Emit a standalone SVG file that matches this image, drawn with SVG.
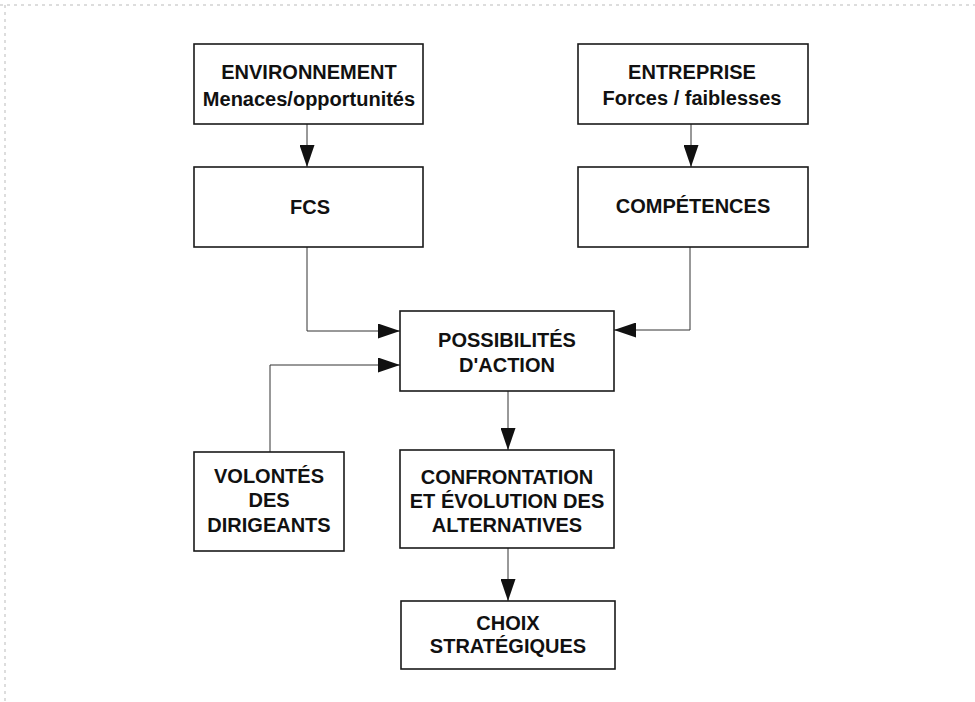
<svg xmlns="http://www.w3.org/2000/svg" width="975" height="702" viewBox="0 0 975 702">
<style>
.box{fill:#fff;stroke:#1a1a1a;stroke-width:1.6}
.t{font-family:"Liberation Sans",Arial,sans-serif;font-weight:bold;font-size:20px;fill:#111;text-anchor:middle}
.c{fill:none;stroke:#333;stroke-width:1}
.frame{stroke:#bbb;stroke-width:1;stroke-dasharray:3 4;fill:none}
</style>
<defs>
<marker id="ah" markerUnits="userSpaceOnUse" markerWidth="22" markerHeight="15" refX="22" refY="7.5" orient="auto">
<path d="M0,0 L22,7.5 L0,15 z" fill="#111"/>
</marker>
</defs>
<rect width="975" height="702" fill="#fff"/>
<g id="frame">
<line class="frame" x1="0" y1="5" x2="975" y2="5"/>
<line class="frame" x1="5" y1="5" x2="5" y2="702"/>
</g>
<g id="connectors">
<line class="c" x1="307" y1="124" x2="307" y2="167" marker-end="url(#ah)"/>
<line class="c" x1="691" y1="124" x2="691" y2="167" marker-end="url(#ah)"/>
<polyline class="c" points="307,247 307,331 400,331" marker-end="url(#ah)"/>
<polyline class="c" points="270,452 270,365 400,365" marker-end="url(#ah)"/>
<polyline class="c" points="690,247 690,330 614,330" marker-end="url(#ah)"/>
<line class="c" x1="508" y1="391" x2="508" y2="450" marker-end="url(#ah)"/>
<line class="c" x1="508" y1="548" x2="508" y2="601" marker-end="url(#ah)"/>
</g>
<g id="environnement">
<rect class="box" x="194" y="44" width="229" height="80"/>
<text class="t" x="309" y="79">ENVIRONNEMENT</text>
<text class="t" x="309" y="106">Menaces/opportunités</text>
</g>
<g id="entreprise">
<rect class="box" x="578" y="44" width="230" height="80"/>
<text class="t" x="692" y="79">ENTREPRISE</text>
<text class="t" x="692" y="105">Forces / faiblesses</text>
</g>
<g id="fcs">
<rect class="box" x="194" y="167" width="229" height="80"/>
<text class="t" x="310" y="214">FCS</text>
</g>
<g id="competences">
<rect class="box" x="578" y="167" width="230" height="80"/>
<text class="t" x="693" y="213">COMPÉTENCES</text>
</g>
<g id="possibilites">
<rect class="box" x="400" y="311" width="214" height="80"/>
<text class="t" x="507" y="347">POSSIBILITÉS</text>
<text class="t" x="507" y="372">D'ACTION</text>
</g>
<g id="volontes">
<rect class="box" x="194" y="452" width="150" height="99"/>
<text class="t" x="269" y="483">VOLONTÉS</text>
<text class="t" x="269" y="507">DES</text>
<text class="t" x="269" y="532">DIRIGEANTS</text>
</g>
<g id="confrontation">
<rect class="box" x="400" y="450" width="214" height="98"/>
<text class="t" x="507" y="484">CONFRONTATION</text>
<text class="t" x="507" y="508">ET ÉVOLUTION DES</text>
<text class="t" x="507" y="532">ALTERNATIVES</text>
</g>
<g id="choix">
<rect class="box" x="401" y="601" width="214" height="68"/>
<text class="t" x="508" y="630">CHOIX</text>
<text class="t" x="508" y="653">STRATÉGIQUES</text>
</g>
</svg>
